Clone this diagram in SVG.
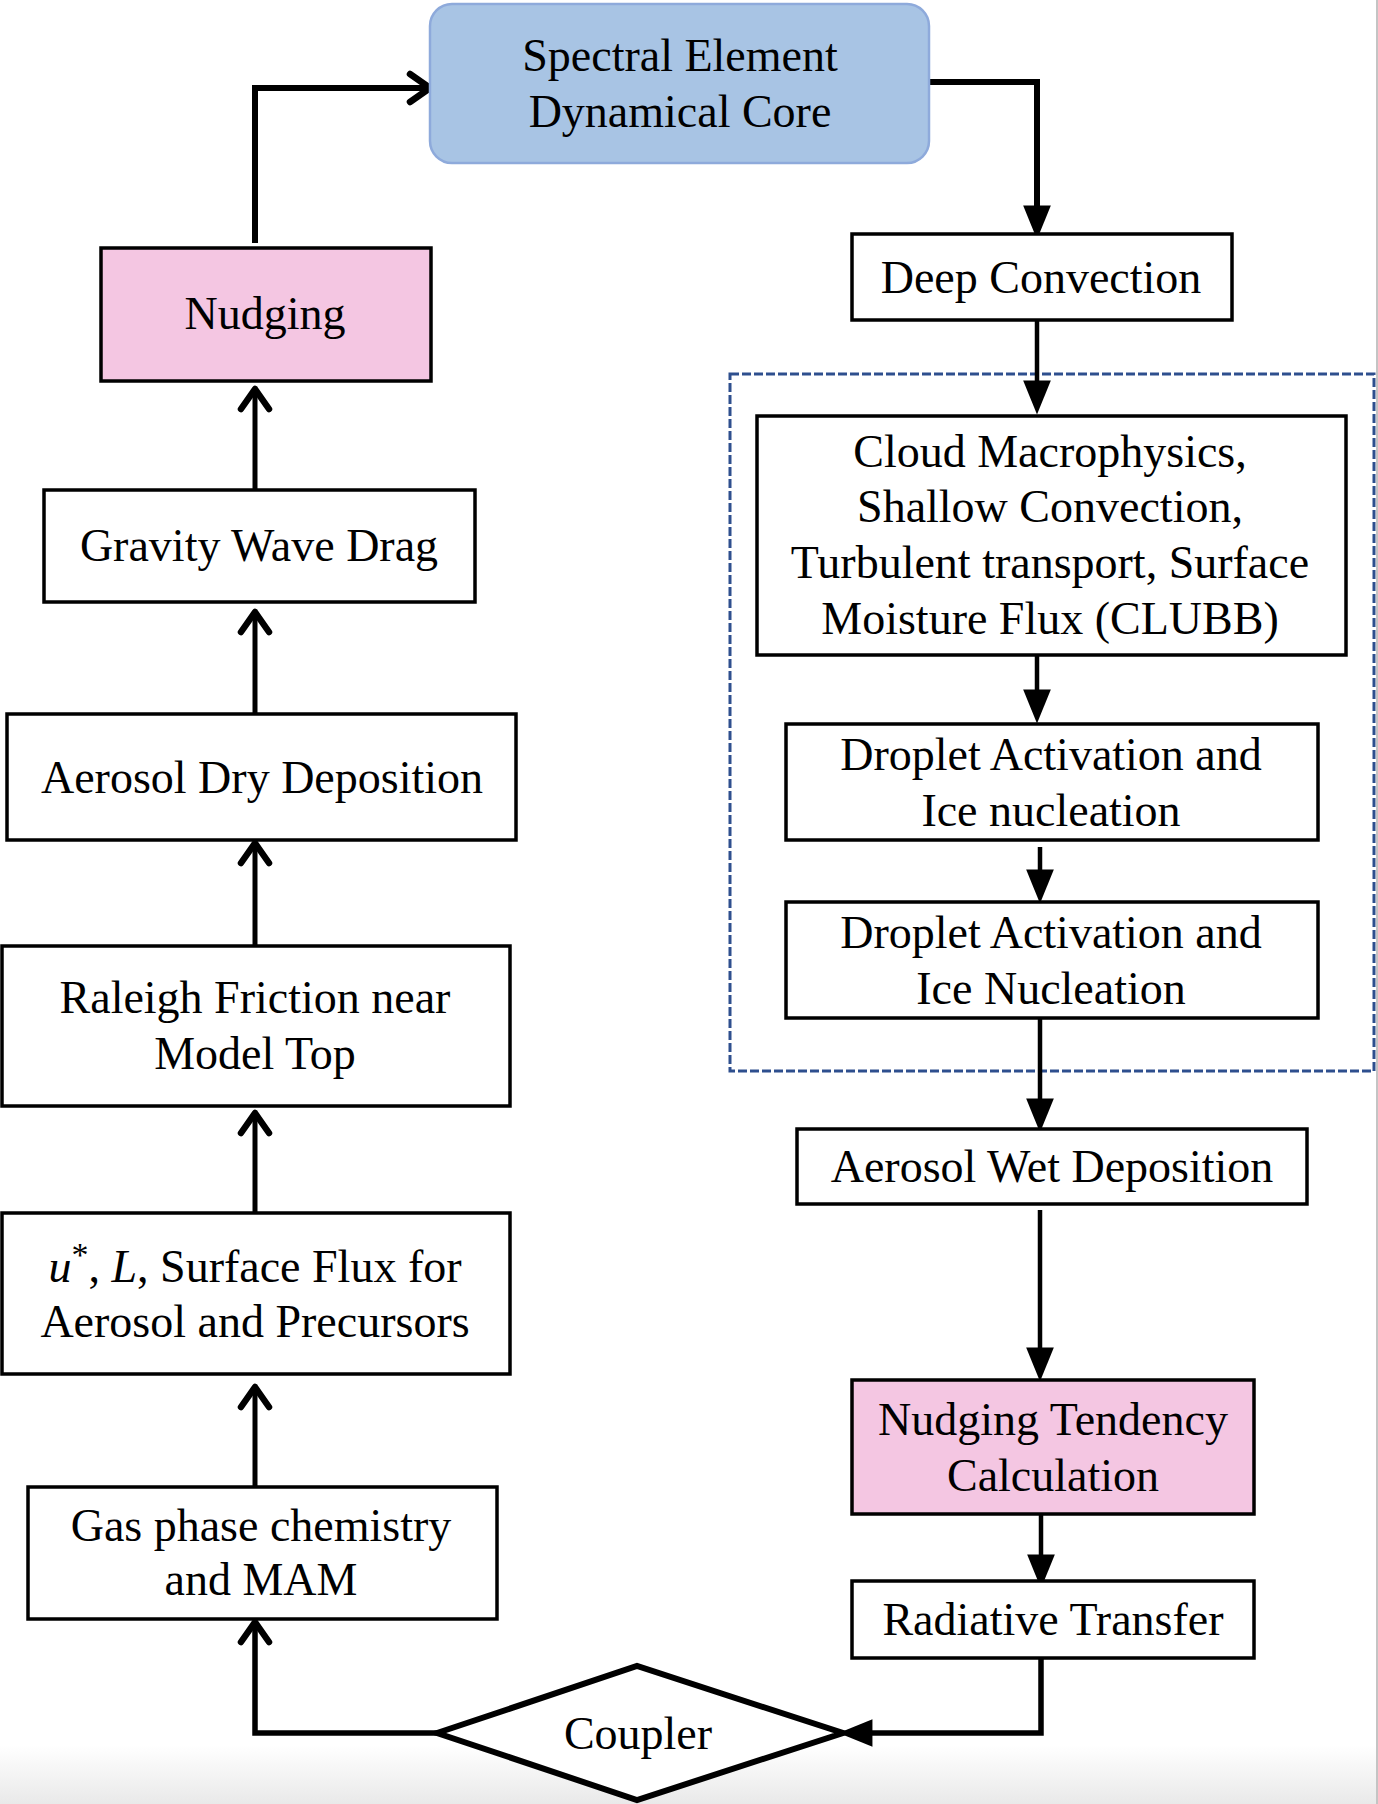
<svg xmlns="http://www.w3.org/2000/svg" width="1378" height="1804" viewBox="0 0 1378 1804">
<defs>
<style>
.box{fill:#ffffff;stroke:#000;stroke-width:3.5}
.pink{fill:#f4c6e2;stroke:#000;stroke-width:3.5}
.lbl{font-family:"Liberation Serif","Times New Roman",serif;font-size:46px;fill:#000;text-anchor:middle}
.ln{fill:none;stroke:#000;stroke-width:4.5}
.lu{stroke-width:5}
.up{marker-end:url(#chev)}
.dn{marker-end:url(#tri)}
</style>
<marker id="chev" markerUnits="userSpaceOnUse" markerWidth="40" markerHeight="40" viewBox="-25 -20 30 40" refX="0" refY="0" orient="auto">
<path d="M -20 -14 L 0 0 L -20 14" fill="none" stroke="#000" stroke-width="6.5" stroke-linecap="round" stroke-linejoin="round"/>
</marker>
<marker id="tri" markerUnits="userSpaceOnUse" markerWidth="40" markerHeight="40" viewBox="-14 -12 26 24" refX="0" refY="0" orient="auto">
<path d="M -12 -9 L 10 0 L -12 9 z" fill="#000"/>
</marker>
<linearGradient id="bg" x1="0" y1="0" x2="0" y2="1">
<stop offset="0" stop-color="#ffffff"/>
<stop offset="1" stop-color="#e9e9e9"/>
</linearGradient>
</defs>
<rect x="0" y="0" width="1378" height="1804" fill="#ffffff"/>
<rect x="0" y="1745" width="1378" height="59" fill="url(#bg)"/>
<line x1="1377" y1="0" x2="1377" y2="1804" stroke="#c4c4c4" stroke-width="2"/>

<g id="group-clubb">
<rect x="730" y="374" width="644" height="697" fill="none" stroke="#2e4f8e" stroke-width="3" stroke-dasharray="9 3"/>
</g>

<g id="connectors">
<polyline class="ln up" points="255,243 255,88 430,88" style="stroke-width:6"/>
<polyline class="ln" points="929,82 1037,82 1037,214" style="stroke-width:6"/>
<line class="ln dn" x1="1037" y1="200" x2="1037" y2="224"/>
<line class="ln lu up" x1="255" y1="490" x2="255" y2="389"/>
<line class="ln lu up" x1="255" y1="714" x2="255" y2="612"/>
<line class="ln lu up" x1="255" y1="946" x2="255" y2="843"/>
<line class="ln lu up" x1="255" y1="1213" x2="255" y2="1113"/>
<line class="ln lu up" x1="255" y1="1487" x2="255" y2="1387"/>
<polyline class="ln up" points="437,1733 255,1733 255,1622" style="stroke-width:5.5"/>
<line class="ln dn" x1="1037" y1="320" x2="1037" y2="399"/>
<line class="ln dn" x1="1037" y1="656" x2="1037" y2="708"/>
<line class="ln dn" x1="1040" y1="847" x2="1040" y2="888"/>
<line class="ln dn" x1="1040" y1="1018" x2="1040" y2="1117"/>
<line class="ln dn" x1="1040" y1="1210" x2="1040" y2="1366"/>
<line class="ln dn" x1="1041" y1="1514" x2="1041" y2="1573"/>
<polyline class="ln dn" points="1041,1658 1041,1733 854,1733" style="stroke-width:5.5"/>
</g>

<g id="node-spectral">
<rect x="430" y="4" width="499" height="159" rx="22" ry="22" fill="#a8c4e4" stroke="#8eaadb" stroke-width="2.5"/>
<text class="lbl" x="680" y="71">Spectral Element</text>
<text class="lbl" x="680" y="127">Dynamical Core</text>
</g>

<g id="node-nudging">
<rect class="pink" x="101" y="248" width="330" height="133"/>
<text class="lbl" x="265" y="329">Nudging</text>
</g>

<g id="node-gwd">
<rect class="box" x="44" y="490" width="431" height="112"/>
<text class="lbl" x="259" y="561">Gravity Wave Drag</text>
</g>

<g id="node-drydep">
<rect class="box" x="7" y="714" width="509" height="126"/>
<text class="lbl" x="262" y="793">Aerosol Dry Deposition</text>
</g>

<g id="node-raleigh">
<rect class="box" x="2" y="946" width="508" height="160"/>
<text class="lbl" x="255" y="1013">Raleigh Friction near</text>
<text class="lbl" x="255" y="1069">Model Top</text>
</g>

<g id="node-surfflux">
<rect class="box" x="2" y="1213" width="508" height="161"/>
<text class="lbl" x="255" y="1282"><tspan font-style="italic">u</tspan><tspan font-size="34" dy="-16">*</tspan><tspan dy="16">, </tspan><tspan font-style="italic">L</tspan>, Surface Flux for</text>
<text class="lbl" x="255" y="1337">Aerosol and Precursors</text>
</g>

<g id="node-gasphase">
<rect class="box" x="28" y="1487" width="469" height="132"/>
<text class="lbl" x="261" y="1541">Gas phase chemistry</text>
<text class="lbl" x="261" y="1595">and MAM</text>
</g>

<g id="node-coupler">
<polygon points="437,1733 637,1666 843,1733 637,1800" fill="#ffffff" stroke="#000" stroke-width="6" stroke-linejoin="miter"/>
<text class="lbl" x="638" y="1749">Coupler</text>
</g>

<g id="node-deepconv">
<rect class="box" x="852" y="234" width="380" height="86"/>
<text class="lbl" x="1041" y="293">Deep Convection</text>
</g>

<g id="node-clubb">
<rect class="box" x="757" y="416" width="589" height="239"/>
<text class="lbl" x="1050" y="467">Cloud Macrophysics,</text>
<text class="lbl" x="1050" y="522">Shallow Convection,</text>
<text class="lbl" x="1050" y="578">Turbulent transport, Surface</text>
<text class="lbl" x="1050" y="634">Moisture Flux (CLUBB)</text>
</g>

<g id="node-droplet1">
<rect class="box" x="786" y="724" width="532" height="116"/>
<text class="lbl" x="1051" y="770">Droplet Activation and</text>
<text class="lbl" x="1051" y="826">Ice nucleation</text>
</g>

<g id="node-droplet2">
<rect class="box" x="786" y="902" width="532" height="116"/>
<text class="lbl" x="1051" y="948">Droplet Activation and</text>
<text class="lbl" x="1051" y="1004">Ice Nucleation</text>
</g>

<g id="node-wetdep">
<rect class="box" x="797" y="1129" width="510" height="75"/>
<text class="lbl" x="1052" y="1182">Aerosol Wet Deposition</text>
</g>

<g id="node-nudgetend">
<rect class="pink" x="852" y="1380" width="402" height="134"/>
<text class="lbl" x="1053" y="1435">Nudging Tendency</text>
<text class="lbl" x="1053" y="1491">Calculation</text>
</g>

<g id="node-radiative">
<rect class="box" x="852" y="1581" width="402" height="77"/>
<text class="lbl" x="1053" y="1635">Radiative Transfer</text>
</g>
</svg>
